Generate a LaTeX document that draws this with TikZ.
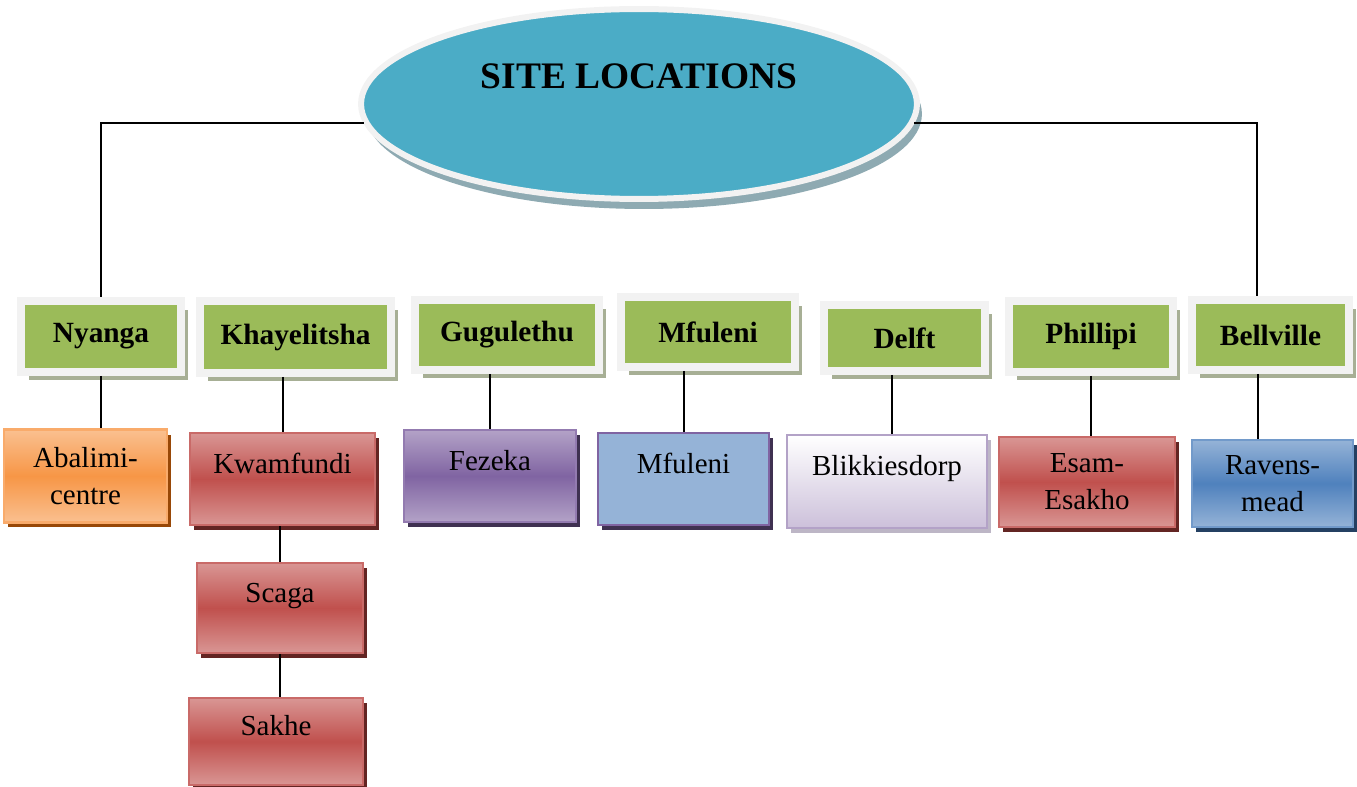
\documentclass[tikz,border=0pt]{standalone}
\usepackage{fontspec}
\setmainfont{Liberation Serif}
\usetikzlibrary{shapes.geometric,shadows}
\definecolor{hubblue}{HTML}{4BACC6}
\definecolor{hubshadow}{HTML}{8EAAB2}
\definecolor{framegray}{HTML}{F2F2F2}
\definecolor{areagreen}{HTML}{9BBB59}
\definecolor{areashadow}{HTML}{A7AF95}
\definecolor{orangelight}{HTML}{FAC090}
\definecolor{orangemid}{HTML}{F79646}
\definecolor{orangeshadow}{HTML}{984807}
\definecolor{redlight}{HTML}{D99694}
\definecolor{redmid}{HTML}{C0504D}
\definecolor{redshadow}{HTML}{632523}
\definecolor{purplelight}{HTML}{B3A2C7}
\definecolor{purplemid}{HTML}{8064A2}
\definecolor{purpleshadow}{HTML}{3F3151}
\definecolor{paleblue}{HTML}{95B3D7}
\definecolor{bluemid}{HTML}{4F81BD}
\definecolor{blueshadow}{HTML}{244062}
\definecolor{lavender}{HTML}{CCC0DA}
\definecolor{lavendershadow}{HTML}{BDB6C6}
\begin{document}
\begin{tikzpicture}[x=0.02cm, y=-0.02cm,
  hub/.style={ellipse, fill=hubblue, draw=framegray, line width=0.12cm, inner sep=0pt,
    minimum width=11.12cm, minimum height=3.8cm, font=\fontsize{21.3}{26}\selectfont\bfseries,
    text height=0.5cm, text depth=1.1cm,
    drop shadow={shadow xshift=0.1cm, shadow yshift=-0.2cm, fill=hubshadow, opacity=1}},
  area/.style={fill=areagreen, draw=framegray, line width=0.16cm, inner sep=0pt,
    font=\fontsize{16.7}{20}\selectfont\bfseries,
    drop shadow={shadow xshift=0.15cm, shadow yshift=-0.17cm, fill=areashadow, opacity=1}},
  site/.style={line width=0.05cm, inner sep=0pt, align=center, font=\fontsize{16.5}{21}\selectfont},
  topline/.style={text height=0.4cm, text depth=0.64cm},
  orangesite/.style={site, draw=orangemid!80!white, top color=orangelight, bottom color=orangelight, middle color=orangemid,
    drop shadow={shadow xshift=0.08cm, shadow yshift=-0.1cm, fill=orangeshadow, opacity=1}},
  redsite/.style={site, draw=redmid!85!white, top color=redlight, bottom color=redlight, middle color=redmid,
    drop shadow={shadow xshift=0.08cm, shadow yshift=-0.1cm, fill=redshadow, opacity=1}},
  purplesite/.style={site, draw=purplemid!85!white, top color=purplelight, bottom color=purplelight, middle color=purplemid,
    drop shadow={shadow xshift=0.08cm, shadow yshift=-0.1cm, fill=purpleshadow, opacity=1}},
  palesite/.style={site, draw=purplemid, fill=paleblue,
    drop shadow={shadow xshift=0.08cm, shadow yshift=-0.1cm, fill=purpleshadow, opacity=1}},
  lavsite/.style={site, draw=purplelight, top color=white, bottom color=lavender,
    drop shadow={shadow xshift=0.08cm, shadow yshift=-0.1cm, fill=lavendershadow, opacity=1}},
  bluesite/.style={site, draw=bluemid!80!white, top color=paleblue, bottom color=paleblue, middle color=bluemid,
    drop shadow={shadow xshift=0.08cm, shadow yshift=-0.1cm, fill=blueshadow, opacity=1}},
  link/.style={line width=0.04cm}]
\useasboundingbox (0,0) rectangle (1357,787);
\node[hub] (hub) at (639,104) {SITE LOCATIONS};
\node[area, minimum width=3.2cm, minimum height=1.42cm] (nyanga) at (101,336.5) {Nyanga};
\node[area, minimum width=3.82cm, minimum height=1.44cm] (khay) at (295.5,337) {Khayelitsha};
\node[area, minimum width=3.68cm, minimum height=1.4cm] (gugu) at (507,335) {Gugulethu};
\node[area, minimum width=3.48cm, minimum height=1.4cm] (mful) at (708,332) {Mfuleni};
\node[area, minimum width=3.22cm, minimum height=1.32cm] (delft) at (904.5,338) {Delft};
\node[area, minimum width=3.28cm, minimum height=1.42cm] (phil) at (1091,336.5) {Phillipi};
\node[area, minimum width=3.14cm, minimum height=1.4cm] (bell) at (1270.5,335) {Bellville};
\node[orangesite, minimum width=3.26cm, minimum height=1.86cm] (abal) at (85.5,476) {Abalimi-\\centre};
\node[redsite, topline, minimum width=3.7cm, minimum height=1.84cm] (kwam) at (282.5,479) {Kwamfundi};
\node[redsite, topline, minimum width=3.32cm, minimum height=1.8cm] (scaga) at (280,608) {Scaga};
\node[redsite, topline, minimum width=3.48cm, minimum height=1.74cm] (sakhe) at (276,741.5) {Sakhe};
\node[purplesite, topline, minimum width=3.44cm, minimum height=1.84cm] (fez) at (490,476) {Fezeka};
\node[palesite, topline, minimum width=3.42cm, minimum height=1.84cm] (mful2) at (683.5,479) {Mfuleni};
\node[lavsite, topline, minimum width=4cm, minimum height=1.86cm] (blik) at (887,481.5) {Blikkiesdorp};
\node[redsite, minimum width=3.52cm, minimum height=1.8cm] (esam) at (1087,482) {Esam-\\Esakho};
\node[bluesite, minimum width=3.22cm, minimum height=1.74cm] (ravens) at (1272.5,483.5) {Ravens-\\mead};
\draw[link] (hub.184) -| (nyanga.north); \draw[link] (hub.-4) -| ([xshift=-0.28cm]bell.north);
\draw[link] (nyanga.south) -- (nyanga.south |- abal.north); \draw[link] (kwam.north |- khay.south) -- (kwam.north);
\draw[link] (scaga.north |- kwam.south) -- (scaga.north); \draw[link] (scaga.south) -- (scaga.south |- sakhe.north);
\draw[link] (fez.north |- gugu.south) -- (fez.north); \draw[link] (mful2.north |- mful.south) -- (mful2.north);
\draw[link] ([xshift=0.1cm]blik.north |- delft.south) -- ([xshift=0.1cm]blik.north); \draw[link] (phil.south) -- (phil.south |- esam.north);
\draw[link] ([xshift=-0.26cm]bell.south) -- ([xshift=-0.26cm]bell.south |- ravens.north);
\end{tikzpicture}
\end{document}
